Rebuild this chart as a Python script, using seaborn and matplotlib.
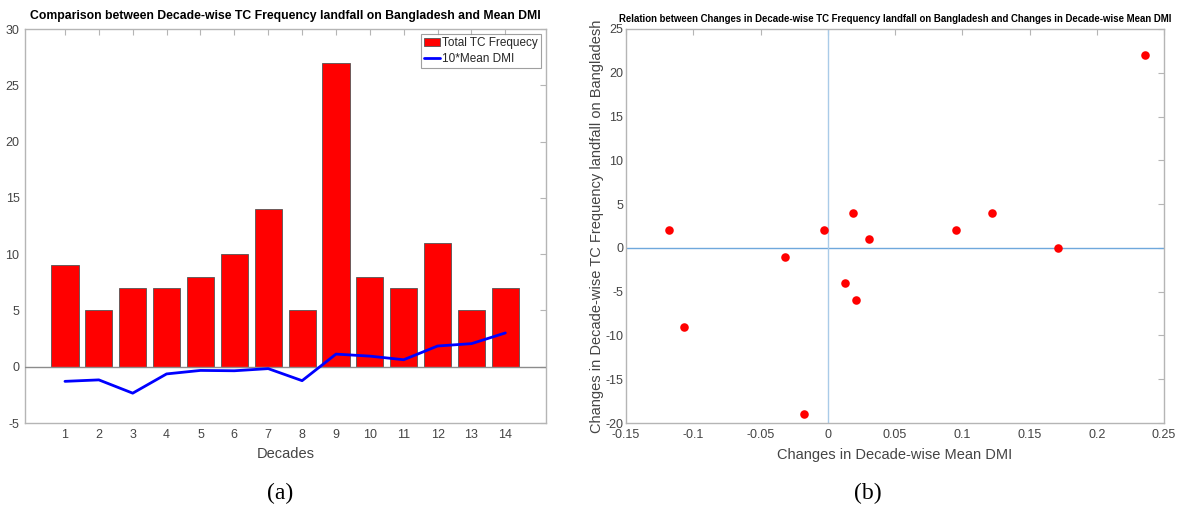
import matplotlib
matplotlib.use("Agg")
import matplotlib.pyplot as plt
import seaborn as sns
import pandas as pd

# Decade-wise tropical cyclone landfall counts and 10 x mean DMI
decades = list(range(1, 15))
tc_frequency = [9, 5, 7, 7, 8, 10, 14, 5, 27, 8, 7, 11, 5, 7]
dmi_x10 = [-1.30, -1.17, -2.35, -0.64, -0.33, -0.36, -0.17,
           -1.24, 1.12, 0.94, 0.62, 1.84, 2.05, 3.00]

# Changes between consecutive decades
dmi_change = [0.013, -0.118, 0.171, 0.031, -0.003, 0.019, -0.107,
              0.236, -0.018, -0.032, 0.122, 0.021, 0.095]
tc_change = [-4, 2, 0, 1, 2, 4, -9, 22, -19, -1, 4, -6, 2]

sns.set_theme(style="white")
plt.rcParams["font.family"] = ["Liberation Sans", "DejaVu Sans"]
plt.rcParams["axes.unicode_minus"] = False

GRID = "#b5b5b5"
TXT = "#444444"

fig = plt.figure(figsize=(11.78, 5.08), dpi=100)
W, H = 1178, 508


def box(l, t, r, b):
    return [l / W, 1 - b / H, (r - l) / W, (b - t) / H]


ax1 = fig.add_axes(box(25, 29, 546, 423))
ax2 = fig.add_axes(box(626, 29, 1164, 423))

for ax in (ax1, ax2):
    for s in ax.spines.values():
        s.set_color(GRID)
        s.set_linewidth(1.0)
    ax.tick_params(direction="in", length=4, width=0.8, color=GRID,
                   top=True, right=True, labelsize=9, labelcolor=TXT,
                   pad=4)

# ---- (a) bars and DMI line ----
bars = pd.DataFrame({"Decade": decades, "TC": tc_frequency, "DMI": dmi_x10})
sns.barplot(data=bars, x="Decade", y="TC", native_scale=True, width=0.8,
            color="#ff0000", saturation=1, edgecolor="#555555", linewidth=0.6,
            ax=ax1, label="Total TC Frequecy", zorder=2)
ax1.axhline(0, color="#8c8c8c", lw=1.0, zorder=3)
sns.lineplot(data=bars, x="Decade", y="DMI", color="#0000ff", lw=2,
             ax=ax1, label="10*Mean DMI", zorder=4)
ax1.set_xlim(-0.18, 15.2)
ax1.set_ylim(-5, 30)
ax1.set_xticks(decades)
ax1.set_yticks(range(-5, 31, 5))
ax1.set_xlabel("Decades", fontsize=10.5, color=TXT, labelpad=5)
ax1.set_ylabel("")
ax1.set_title("Comparison between Decade-wise TC Frequency landfall on "
              "Bangladesh and Mean DMI", fontsize=8.8, fontweight="bold",
              color="black", pad=7)
handles, labels = ax1.get_legend_handles_labels()
order = [labels.index("Total TC Frequecy"), labels.index("10*Mean DMI")]
leg = ax1.legend([handles[i] for i in order], [labels[i] for i in order],
                 loc="upper right", fontsize=8.5, frameon=True, fancybox=False,
                 edgecolor="#888888", borderpad=0.3, labelspacing=0.3,
                 handlelength=1.3, handletextpad=0.2, borderaxespad=0.4)
leg.get_frame().set_linewidth(0.8)

# ---- (b) scatter of changes ----
changes = pd.DataFrame({"dDMI": dmi_change, "dTC": tc_change})
ax2.axhline(0, color="#6fa8dc", lw=1.0, zorder=1)
ax2.axvline(0, color="#a9cbe8", lw=1.0, zorder=1)
sns.scatterplot(data=changes, x="dDMI", y="dTC", color="#ff0000", s=38,
                edgecolor="#ff0000", linewidth=0, ax=ax2, zorder=3)
ax2.set_xlim(-0.15, 0.25)
ax2.set_ylim(-20, 25)
ax2.set_xticks([-0.15, -0.1, -0.05, 0, 0.05, 0.1, 0.15, 0.2, 0.25])
ax2.set_xticklabels(["-0.15", "-0.1", "-0.05", "0", "0.05", "0.1", "0.15",
                     "0.2", "0.25"])
ax2.set_yticks(range(-20, 26, 5))
ax2.tick_params(axis="y", pad=2)
ax2.set_xlabel("Changes in Decade-wise Mean DMI", fontsize=10.5, color=TXT,
               labelpad=5)
ax2.set_ylabel("Changes in Decade-wise TC Frequency landfall on Bangladesh",
               fontsize=10.5, color=TXT, labelpad=1)
ax2.set_title("Relation between Changes in Decade-wise TC Frequency landfall "
              "on Bangladesh and Changes in Decade-wise Mean DMI",
              fontsize=6.9, fontweight="bold", color="black", pad=5)

# panel captions
fig.text(280 / W, 1 - 493 / H, "(a)", ha="center", va="center", fontsize=17,
         family=["Liberation Serif", "DejaVu Serif"], color="black")
fig.text(868 / W, 1 - 493 / H, "(b)", ha="center", va="center", fontsize=17,
         family=["Liberation Serif", "DejaVu Serif"], color="black")

fig.savefig("out.png", dpi=100, facecolor="white")
